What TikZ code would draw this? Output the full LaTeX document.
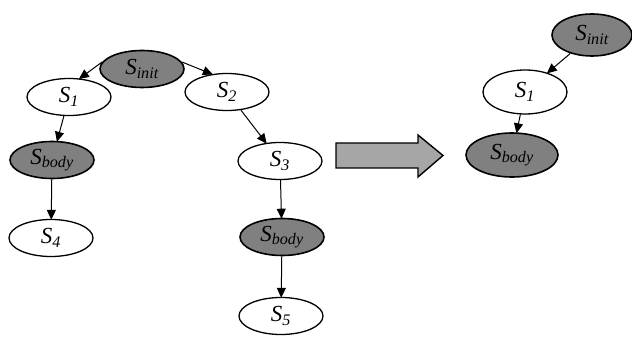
\documentclass[tikz,border=0pt]{standalone}
\usepackage{fontspec}
\setmainfont{Liberation Serif}
\usetikzlibrary{shapes.geometric,arrows.meta}
\begin{document}
\begin{tikzpicture}[x=1pt,y=-1pt,
  state/.style={ellipse,draw=black,line width=1.3pt,inner sep=0pt,
    minimum width=84pt,minimum height=37pt,
    font=\fontsize{23}{25}\selectfont\itshape},
  shaded/.style={state,fill=black!50,line width=1.6pt},
  link/.style={-{Triangle[length=10pt,width=9pt]},line width=1pt,shorten >=-1pt}]
\useasboundingbox (0,0) rectangle (632,339);
% left tree
\node[shaded] (init) at (142,69) {S\textsubscript{init}};
\node[state] (s1) at (69,97) {S\textsubscript{1}};
\node[state] (s2) at (227,92) {S\textsubscript{2}};
\node[shaded] (body1) at (52,160) {S\textsubscript{body}};
\node[state] (s4) at (51,238) {S\textsubscript{4}};
\node[state] (s3) at (280,161) {S\textsubscript{3}};
\node[shaded] (body2) at (282,237) {S\textsubscript{body}};
\node[state] (s5) at (281,316) {S\textsubscript{5}};
\draw[link] (init.170) -- (s1.60);
\draw[link] (init.10) -- (s2.130);
\draw[link] (s1) -- (body1);
\draw[link] (body1) -- (s4);
\draw[link] (s2) -- (s3);
\draw[link] (s3) -- (body2);
\draw[link] (body2) -- (s5);
% transformation arrow
\draw[fill=black!35,line width=1.4pt,line join=miter]
  (336,143) -- (418,143) -- (418,135) -- (443,155.5) -- (418,177) -- (418,168) -- (336,168) -- cycle;
% right tree
\node[shaded,minimum width=80pt,minimum height=42pt] (rinit) at (592,35) {S\textsubscript{init}};
\node[state,minimum height=44pt] (rs1) at (525,92) {S\textsubscript{1}};
\node[shaded,minimum width=92pt,minimum height=44pt] (rbody) at (512,155) {S\textsubscript{body}};
\draw[link] (rinit) -- (rs1);
\draw[link] (rs1) -- (rbody);
\end{tikzpicture}
\end{document}
